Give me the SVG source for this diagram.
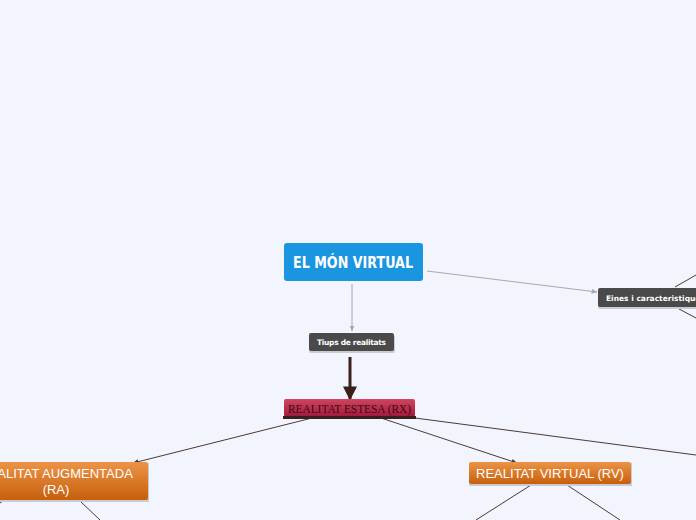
<svg xmlns="http://www.w3.org/2000/svg" width="696" height="520" viewBox="0 0 696 520">
<defs>
<style>
.bg{fill:#f2f5fe}
.lbl{font-family:"Liberation Sans",Arial,sans-serif;fill:#fff}
.small{font-family:"DejaVu Sans",sans-serif;font-size:7.5px;font-weight:bold;fill:#fff}
.conn{fill:none;stroke:#4a3a38;stroke-width:1}
.gconn{fill:none;stroke:#a8a8a8;stroke-width:1}
.shadow{fill:#c9cbd0}
</style>
<linearGradient id="gOr" x1="0" y1="0" x2="0" y2="1">
<stop offset="0" stop-color="#ec9446"/>
<stop offset="1" stop-color="#c75f0c"/>
</linearGradient>
<linearGradient id="gRed" x1="0" y1="0" x2="0" y2="1">
<stop offset="0" stop-color="#cf4560"/>
<stop offset="1" stop-color="#a2183a"/>
</linearGradient>
<marker id="ah" viewBox="0 0 10 10" refX="9" refY="5" markerWidth="6" markerHeight="6" orient="auto" markerUnits="userSpaceOnUse">
<path d="M0,1 L10,5 L0,9 z" fill="#4a3a38"/>
</marker>
<marker id="ahg" viewBox="0 0 10 10" refX="9" refY="5" markerWidth="6" markerHeight="6" orient="auto" markerUnits="userSpaceOnUse">
<path d="M0,1 L10,5 L0,9 z" fill="#a8a8a8"/>
</marker>
<marker id="ahb" viewBox="0 0 10 10" refX="9" refY="5" markerWidth="14" markerHeight="14" orient="auto" markerUnits="userSpaceOnUse">
<path d="M0,0 L10,5 L0,10 z" fill="#3b1f1a"/>
</marker>
</defs>
<rect class="bg" x="0" y="0" width="696" height="520"/>
<g id="connectors">
<line class="gconn" x1="352" y1="284" x2="352" y2="331" marker-end="url(#ahg)"/>
<line class="gconn" x1="427" y1="271" x2="597" y2="292" marker-end="url(#ahg)"/>
<line x1="350" y1="357" x2="350" y2="399" stroke="#3b1f1a" stroke-width="3" marker-end="url(#ahb)"/>
<line class="conn" x1="312" y1="418" x2="133" y2="463" marker-end="url(#ah)"/>
<line class="conn" x1="381" y1="418" x2="517" y2="463" marker-end="url(#ah)"/>
<line class="conn" x1="415" y1="418" x2="696" y2="455"/>
<line class="conn" x1="675" y1="287" x2="696" y2="275"/>
<line class="conn" x1="679" y1="309" x2="696" y2="318"/>
<line class="conn" x1="80" y1="501" x2="100" y2="520"/>
<line class="conn" x1="4" y1="500" x2="0" y2="503"/>
<line class="conn" x1="531" y1="485" x2="476" y2="520"/>
<line class="conn" x1="567" y1="485" x2="620" y2="520"/>
</g>
<g id="main">
<rect x="284" y="243" width="139" height="38" rx="3" fill="#1a95e0"/>
<text x="353" y="268" text-anchor="middle" font-family="'DejaVu Sans',sans-serif" font-weight="bold" font-size="16" fill="#fff" textLength="120" lengthAdjust="spacingAndGlyphs">EL MÓN VIRTUAL</text>
</g>
<g id="tiups">
<rect class="shadow" x="309" y="335" width="86" height="18" rx="2"/>
<rect x="309" y="333" width="85" height="18" rx="2" fill="#4a4a4a"/>
<text class="small" x="351.5" y="345" text-anchor="middle" textLength="69" lengthAdjust="spacing">Tiups de realitats</text>
</g>
<g id="eines">
<rect class="shadow" x="598" y="290" width="110" height="19" rx="2"/>
<rect x="598" y="288" width="110" height="19" rx="2" fill="#4a4a4a"/>
<text class="small" x="606" y="300.5">Eines  i caracteristiques</text>
</g>
<g id="rx">
<rect x="284" y="399" width="131" height="18" rx="2" fill="url(#gRed)"/>
<rect x="283" y="416" width="133" height="3" fill="#3b1f1a"/>
<text x="349.5" y="412.5" text-anchor="middle" font-family="'Liberation Serif',serif" font-size="11.5" fill="#3a0a14" textLength="123" lengthAdjust="spacingAndGlyphs">REALITAT ESTESA (RX)</text>
</g>
<g id="ra">
<rect x="-36" y="463" width="185" height="39" fill="#c9cbd0"/>
<rect x="-36" y="462" width="184" height="38" rx="2" fill="url(#gOr)"/>
<text class="lbl" x="56" y="478" text-anchor="middle" font-size="13">REALITAT AUGMENTADA</text>
<text class="lbl" x="56" y="494" text-anchor="middle" font-size="13">(RA)</text>
</g>
<g id="rv">
<rect x="469" y="463" width="163" height="23" fill="#c9cbd0"/>
<rect x="469" y="462" width="162" height="22" rx="2" fill="url(#gOr)"/>
<text class="lbl" x="550" y="478" text-anchor="middle" font-size="13">REALITAT VIRTUAL (RV)</text>
</g>
</svg>
